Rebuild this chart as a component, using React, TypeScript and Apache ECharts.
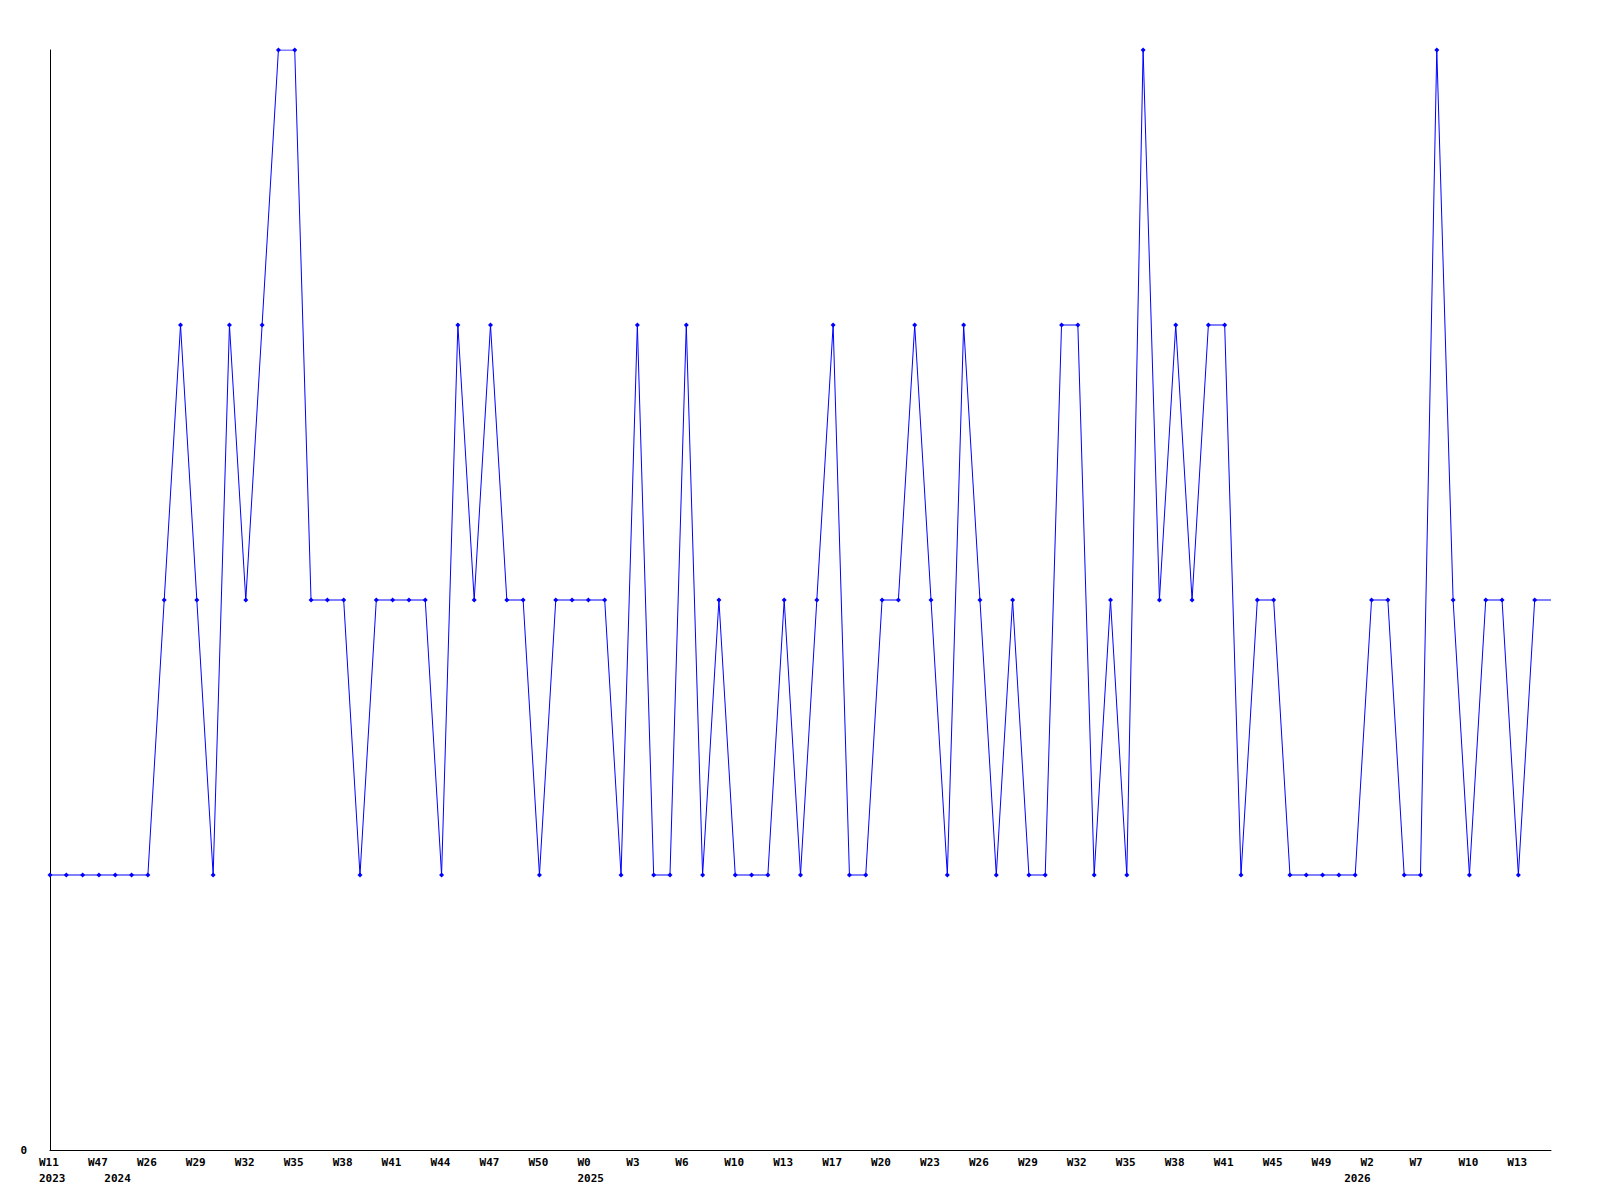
import React, { useEffect, useRef } from "react";
import * as echarts from "echarts";

const categories: string[] = [
  "2023-W11", "2023-W25", "2023-W40", "2023-W47", "2024-W10", "2024-W18", "2024-W26", "2024-W27",
  "2024-W28", "2024-W29", "2024-W30", "2024-W31", "2024-W32", "2024-W33", "2024-W34", "2024-W35",
  "2024-W36", "2024-W37", "2024-W38", "2024-W39", "2024-W40", "2024-W41", "2024-W42", "2024-W43",
  "2024-W44", "2024-W45", "2024-W46", "2024-W47", "2024-W48", "2024-W49", "2024-W50", "2024-W51",
  "2024-W52", "2025-W0", "2025-W1", "2025-W2", "2025-W3", "2025-W4", "2025-W5", "2025-W6",
  "2025-W7", "2025-W9", "2025-W10", "2025-W11", "2025-W12", "2025-W13", "2025-W14", "2025-W16",
  "2025-W17", "2025-W18", "2025-W19", "2025-W20", "2025-W21", "2025-W22", "2025-W23", "2025-W24",
  "2025-W25", "2025-W26", "2025-W27", "2025-W28", "2025-W29", "2025-W30", "2025-W31", "2025-W32",
  "2025-W33", "2025-W34", "2025-W35", "2025-W36", "2025-W37", "2025-W38", "2025-W39", "2025-W40",
  "2025-W41", "2025-W42", "2025-W44", "2025-W45", "2025-W46", "2025-W48", "2025-W49", "2025-W51",
  "2026-W1", "2026-W2", "2026-W4", "2026-W5", "2026-W7", "2026-W8", "2026-W9", "2026-W10",
  "2026-W11", "2026-W12", "2026-W13", "2026-W14", "2026-W15",
];

const values: number[] = [
  1, 1, 1, 1, 1, 1, 1, 2, 3, 2, 1, 3, 2, 3, 4, 4,
  2, 2, 2, 1, 2, 2, 2, 2, 1, 3, 2, 3, 2, 2, 1, 2,
  2, 2, 2, 1, 3, 1, 1, 3, 1, 2, 1, 1, 1, 2, 1, 2,
  3, 1, 1, 2, 2, 3, 2, 1, 3, 2, 1, 2, 1, 1, 3, 3,
  1, 2, 1, 4, 2, 3, 2, 3, 3, 1, 2, 2, 1, 1, 1, 1,
  1, 2, 2, 1, 1, 4, 2, 1, 2, 2, 1, 2, 2,
];

const yTicks: number[] = [0];

const FONT = "'DejaVu Sans Mono', monospace";

function yearOf(i: number): string {
  return categories[i].split("-")[0];
}
function isYearStart(i: number): boolean {
  return i === 0 || yearOf(i) !== yearOf(i - 1);
}

export default function App() {
  const ref = useRef<HTMLDivElement>(null);
  useEffect(() => {
    if (!ref.current) return;
    const chart = echarts.init(ref.current, undefined, { renderer: "svg" });
    const seriesData = values.map((v, i) =>
      i === values.length - 1 ? { value: v, symbol: "none" } : v
    );
    chart.setOption({
      animation: false,
      backgroundColor: "#ffffff",
      grid: { left: 50, right: 49, top: 50, bottom: 50, containLabel: false },
      xAxis: {
        type: "category",
        data: categories,
        boundaryGap: false,
        axisLine: { show: true, lineStyle: { color: "#000000", width: 1 } },
        axisTick: { show: false },
        splitLine: { show: false },
        axisLabel: {
          interval: (index: number) => index % 3 === 0 || isYearStart(index),
          margin: 4,
          color: "#000000",
          fontFamily: FONT,
          fontSize: 11,
          fontWeight: "bold",
          lineHeight: 16,
          formatter: (value: string, index: number) => {
            const parts = value.split("-");
            const w = index % 3 === 0 ? parts[1] : " ";
            let s = `{a|${w}}`;
            if (isYearStart(index)) s += `\n{a|${parts[0]}}`;
            return s;
          },
          rich: {
            a: {
              width: 22,
              align: "left",
              lineHeight: 16,
              fontFamily: FONT,
              fontSize: 11,
              fontWeight: "bold",
              color: "#000000",
            },
          },
        },
      },
      yAxis: {
        type: "value",
        min: 0,
        max: 4,
        interval: 4,
        axisLine: { show: true, lineStyle: { color: "#000000", width: 1 } },
        axisTick: { show: false },
        splitLine: { show: false },
        axisLabel: {
          margin: 23,
          color: "#000000",
          fontFamily: FONT,
          fontSize: 11,
          fontWeight: "bold",
          formatter: (v: number) => (yTicks.includes(v) ? String(v) : ""),
        },
      },
      series: [
        {
          type: "line",
          data: seriesData,
          showAllSymbol: true,
          symbol: "diamond",
          symbolSize: 5,
          lineStyle: { color: "#0000ff", width: 1 },
          itemStyle: { color: "#0000ff" },
          emphasis: { disabled: true },
        },
      ],
    });
    return () => chart.dispose();
  }, []);
  return (
    <div
      ref={ref}
      style={{ position: "fixed", left: 0, top: 0, width: 1600, height: 1200, background: "#fff" }}
    />
  );
}
